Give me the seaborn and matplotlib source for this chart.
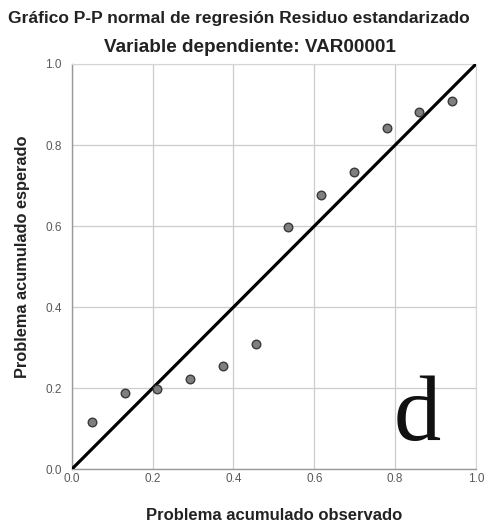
import matplotlib
matplotlib.use("Agg")
import matplotlib.pyplot as plt
import seaborn as sns
import pandas as pd

observed = [0.049, 0.131, 0.211, 0.293, 0.373, 0.455, 0.536, 0.617, 0.698, 0.779, 0.860, 0.941]
expected = [0.116, 0.189, 0.198, 0.222, 0.256, 0.310, 0.598, 0.678, 0.733, 0.843, 0.881, 0.909]
ref_x = [0.0, 1.0]
ref_y = [0.0, 1.0]
ticks = [0.0, 0.2, 0.4, 0.6, 0.8, 1.0]
tick_labels = ["0.0", "0.2", "0.4", "0.6", "0.8", "1.0"]

sns.set_theme(style="white")
plt.rcParams['font.family'] = ['Liberation Sans', 'DejaVu Sans']

W, H = 485, 527
fig = plt.figure(figsize=(W / 100, H / 100), dpi=100)
left, right, top, bottom = 71.7, 476.0, 64.0, 469.3
ax = fig.add_axes([left / W, 1 - bottom / H, (right - left) / W, (bottom - top) / H])

df = pd.DataFrame({"obs": observed, "exp": expected})
sns.lineplot(x=ref_x, y=ref_y, ax=ax, color="black", linewidth=2.3, zorder=3)
sns.scatterplot(data=df, x="obs", y="exp", ax=ax, s=38, color="#7f7f7f",
                edgecolor="#3a3a3a", linewidth=1.0, zorder=4, clip_on=False)

ax.set_xlim(0, 1)
ax.set_ylim(0, 1)
ax.set_xticks(ticks)
ax.set_yticks(ticks)
ax.set_xticklabels(tick_labels, fontsize=8.5, color="#5a5a5a")
ax.set_yticklabels(tick_labels, fontsize=8.5, color="#5a5a5a")
ax.tick_params(axis="x", length=0, pad=3)
ax.tick_params(axis="y", length=0, pad=7)
ax.grid(True, color="#cccccc", linewidth=0.9)
for side in ["top", "right"]:
    ax.spines[side].set_color("#d5d5d5")
    ax.spines[side].set_linewidth(0.8)
for side in ["left", "bottom"]:
    ax.spines[side].set_color("#999999")
    ax.spines[side].set_linewidth(1.0)

ax.set_xlabel("Problema acumulado observado", fontsize=12, fontweight="bold", labelpad=16, color="#222222")
ax.set_ylabel("Problema acumulado esperado", fontsize=11.8, fontweight="bold", color="#222222")
ax.yaxis.set_label_coords(-0.103, 0.524)

ax.text(0.855, 0.072, "d", fontsize=68, family=["Liberation Serif", "DejaVu Serif"],
        ha="center", va="baseline", color="#111111", zorder=5)

fig.text(470 / W, 1 - 18 / H, "Gráfico P-P normal de regresión Residuo estandarizado",
         ha="right", va="center", fontsize=12.5, fontweight="bold", color="#222222")
fig.text(250 / W, 1 - 48 / H, "Variable dependiente: VAR00001",
         ha="center", va="center", fontsize=13.6, fontweight="bold", color="#222222")

fig.savefig("out.png", dpi=100)
